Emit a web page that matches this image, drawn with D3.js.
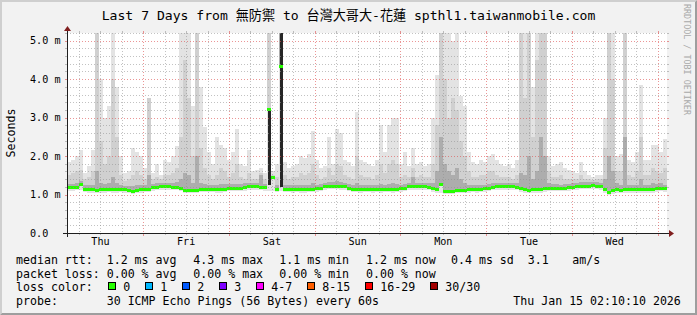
<!DOCTYPE html>
<html>
<head>
<meta charset="utf-8">
<script src="https://cdnjs.cloudflare.com/ajax/libs/d3/7.8.5/d3.min.js"></script>
<style>
html,body{margin:0;padding:0;background:#f2f2f2;}
svg{display:block;}
text{font-family:"DejaVu Sans Mono","Noto Sans CJK TC",monospace;white-space:pre;}
</style>
</head>
<body>
<svg id="chart" width="697" height="315"></svg>
<script>
try{

/*========================================
	Data
========================================*/
var chartTitle = "Last 7 Days from 無防禦 to 台灣大哥大-花蓮 spthl1.taiwanmobile.com";
var axisUnit = "Seconds";
var watermark = "RRDTOOL / TOBI OETIKER";

var startTime = Date.UTC(2026, 0, 8, 2, 38);
var endTime = Date.UTC(2026, 0, 15, 2, 38);

var yTicks = [0, 1, 2, 3, 4, 5];
var yTickLabels = ["0.0", "1.0 m", "2.0 m", "3.0 m", "4.0 m", "5.0 m"];

// one value per ~67 min bin, in ms
var medianRtt = [
 1.18,1.18,1.19,1.25,1.14,1.12,1.12,1.11,1.12,1.12,
 1.13,1.12,1.12,1.13,1.12,1.11,1.09,1.11,1.12,1.13,
 1.14,1.18,1.19,1.20,1.20,1.20,1.19,1.19,1.16,1.10,
 1.10,1.11,1.10,1.13,1.14,1.14,1.13,1.12,1.12,1.14,
 1.16,1.16,1.17,1.16,1.18,1.20,1.21,1.20,1.19,1.18,
 3.20,1.45,1.14,4.33,1.14,1.14,1.13,1.14,1.13,1.12,
 1.13,1.14,1.15,1.16,1.20,1.22,1.22,1.22,1.21,1.20,
 1.17,1.13,1.14,1.13,1.14,1.14,1.13,1.14,1.13,1.14,
 1.14,1.13,1.14,1.15,1.17,1.20,1.20,1.21,1.20,1.20,
 1.19,1.15,1.12,1.25,1.09,1.08,1.09,1.10,1.10,1.11,
 1.13,1.14,1.13,1.14,1.15,1.17,1.19,1.20,1.20,1.21,
 1.20,1.20,1.19,1.15,1.12,1.11,1.12,1.12,1.13,1.15,
 1.16,1.17,1.17,1.16,1.17,1.18,1.19,1.21,1.22,1.22,
 1.22,1.23,1.22,1.20,1.12,1.06,1.10,1.12,1.11,1.12,
 1.12,1.13,1.12,1.13,1.13,1.12,1.13,1.15,1.16,1.15];

var minRtt = [
 1.10,1.10,1.11,1.13,1.06,1.05,1.05,1.04,1.05,1.05,
 1.06,1.05,1.05,1.06,1.05,1.04,1.02,1.04,1.05,1.06,
 1.07,1.10,1.11,1.12,1.12,1.12,1.11,1.11,1.08,1.03,
 1.03,1.04,1.03,1.06,1.07,1.07,1.06,1.05,1.05,1.07,
 1.08,1.08,1.09,1.08,1.10,1.12,1.13,1.12,1.11,1.10,
 1.10,1.08,1.06,1.10,1.06,1.06,1.05,1.06,1.05,1.05,
 1.06,1.06,1.07,1.08,1.12,1.14,1.14,1.14,1.13,1.12,
 1.09,1.06,1.06,1.05,1.06,1.06,1.05,1.06,1.05,1.06,
 1.06,1.05,1.06,1.07,1.09,1.12,1.12,1.13,1.12,1.12,
 1.11,1.07,1.04,1.05,1.02,1.01,1.02,1.03,1.03,1.04,
 1.05,1.06,1.05,1.06,1.07,1.09,1.11,1.12,1.12,1.13,
 1.12,1.12,1.11,1.07,1.04,1.03,1.04,1.04,1.05,1.07,
 1.08,1.09,1.09,1.08,1.09,1.10,1.11,1.13,1.14,1.14,
 1.14,1.15,1.14,1.12,1.04,0.99,1.02,1.04,1.03,1.04,
 1.04,1.05,1.04,1.05,1.05,1.04,1.05,1.07,1.08,1.07];

var p75Rtt = [
 1.28,1.28,1.30,1.35,1.25,1.24,1.26,1.60,1.30,1.28,
 1.30,1.45,1.30,1.26,1.23,1.22,1.22,1.25,1.25,1.24,
 1.50,1.28,1.30,1.30,1.31,1.30,1.30,1.32,1.40,1.55,
 1.50,1.30,2.00,1.30,1.27,1.25,1.24,1.24,1.28,1.27,
 1.27,1.27,1.28,1.27,1.29,1.30,1.31,1.30,1.50,1.28,
 3.20,1.40,1.25,5.20,1.26,1.25,1.24,1.25,1.26,1.25,
 1.25,1.30,1.26,1.27,1.30,1.32,1.32,1.35,1.32,1.30,
 1.28,1.25,1.30,1.25,1.25,1.25,1.24,1.25,1.28,1.25,
 1.28,1.30,1.28,1.25,1.27,1.30,1.45,1.31,1.30,1.30,
 1.29,1.30,1.60,2.50,1.80,1.60,1.50,1.70,1.40,1.30,
 1.25,1.25,1.24,1.25,1.26,1.28,1.30,1.30,1.30,1.31,
 1.30,1.30,1.29,1.55,1.50,2.00,1.40,1.60,2.50,2.00,
 1.30,1.27,1.27,1.26,1.27,1.28,1.29,1.31,1.32,1.32,
 1.32,1.33,1.32,1.30,1.40,2.00,1.60,1.30,1.25,2.50,
 1.25,1.26,1.25,1.40,1.25,1.25,1.30,1.28,1.30,1.26];

var p90Rtt = [
 1.50,1.55,1.60,1.65,1.40,1.45,1.60,5.20,2.40,1.80,
 2.00,4.00,2.50,1.50,1.35,1.40,1.50,1.60,1.50,1.40,
 3.50,1.40,1.45,1.40,1.50,1.50,1.55,1.70,2.50,4.50,
 3.50,2.00,5.20,2.20,1.70,1.50,1.40,1.50,1.70,1.60,
 1.45,1.55,1.80,1.45,1.40,1.55,1.40,1.40,1.55,1.40,
 5.20,1.50,1.45,5.20,1.50,1.40,1.45,1.45,1.55,1.50,
 1.55,1.80,1.50,1.40,1.45,1.70,1.50,1.80,1.75,1.50,
 1.45,1.40,2.00,1.50,1.45,1.45,1.40,1.50,1.80,1.55,
 1.80,1.90,1.80,1.45,1.50,1.45,1.70,1.45,1.50,1.45,
 1.45,1.80,2.80,5.20,4.00,3.00,3.50,3.20,2.40,2.00,
 1.60,1.45,1.45,1.50,1.50,1.60,1.60,1.50,1.45,1.45,
 1.45,1.40,1.50,5.20,3.50,5.20,2.50,4.50,5.20,5.20,
 1.60,1.45,1.45,1.50,1.40,1.40,1.40,1.40,1.50,1.40,
 1.40,1.38,1.40,1.40,2.20,5.20,4.00,1.60,1.60,5.20,
 1.50,1.45,1.60,2.50,1.50,1.50,1.70,1.60,1.55,1.70];

var maxRtt = [
 1.85,1.90,2.00,2.15,1.55,1.75,2.15,5.20,4.00,3.00,
 3.30,5.20,3.80,2.00,1.55,1.60,2.20,2.10,2.00,1.70,
 3.50,1.55,1.80,1.50,1.90,1.85,2.00,2.25,5.20,5.20,
 5.20,3.30,5.20,3.80,2.75,2.10,1.80,2.50,2.30,2.20,
 1.90,2.10,2.70,1.80,1.75,2.15,1.60,1.65,1.70,1.55,
 5.20,1.60,1.80,5.20,1.85,1.70,1.75,1.80,2.00,1.95,
 2.05,2.65,1.90,1.70,1.75,2.50,1.80,2.70,2.60,1.90,
 1.85,1.75,3.15,1.90,1.85,1.80,1.75,1.90,2.80,2.10,
 2.80,3.00,3.00,1.80,2.10,1.75,2.20,1.80,1.85,1.75,
 1.80,3.00,4.10,5.20,5.20,5.20,5.00,5.20,3.55,3.30,
 2.10,1.85,1.80,1.90,1.85,2.00,2.05,1.90,1.80,1.75,
 1.80,1.70,1.90,5.20,5.20,5.20,3.80,5.20,5.20,5.20,
 2.00,1.75,1.80,1.85,1.70,1.65,1.60,1.55,1.85,1.60,
 1.50,1.45,1.50,1.50,3.00,5.20,5.20,2.00,2.05,5.20,
 1.90,1.85,2.10,3.85,1.90,1.90,2.30,2.30,2.10,2.45];

// bins where nearly all pings were slow
var denseIdx = [50, 53];
var denseLow = [1.25, 1.20];
var denseTop = [3.20, 5.20];

var statNames = ["avg", "max", "min", "now", "sd"];
var rttStats = [1.2, 4.3, 1.1, 1.2, 0.4];
var lossStats = [0.00, 0.00, 0.00, 0.00];
var amPerSec = 3.1;

var lossNames = ["0", "1", "2", "3", "4-7", "8-15", "16-29", "30/30"];
var lossColors = ["#26ff00", "#00b8ff", "#0059ff", "#7e00ff", "#ff00ff", "#ff5e00", "#ff0000", "#a10000"];

var probeText = "30 ICMP Echo Pings (56 Bytes) every 60s";
var stampText = "Thu Jan 15 02:10:10 2026";

/*========================================
	Layout
========================================*/
var W = 697, H = 315;
var plot = {left:67, top:33, width:600, height:200};
var bottom = plot.top + plot.height;
var right = plot.left + plot.width;

var svg = d3.select("#chart");

var x = d3.scaleUtc().domain([startTime, endTime]).range([plot.left, right]);
var y = d3.scaleLinear().domain([0, 5.2]).range([bottom, plot.top]);
var binMs = (endTime - startTime) / medianRtt.length;

var binX = function(i){ return x(new Date(startTime + i * binMs)); };
var clampY = function(v){ return y(Math.min(v, 5.2)); };

/*========================================
	Frame
========================================*/
svg.append("rect").attr("width", W).attr("height", H).attr("fill", "#f2f2f2");
svg.append("polygon")
	.attr("points", [[0,H],[2,H-2],[2,2],[W-2,2],[W,0],[0,0]].join(" "))
	.attr("fill", "#cfcfcf");
svg.append("polygon")
	.attr("points", [[W,0],[W-2,2],[W-2,H-2],[2,H-2],[0,H],[W,H]].join(" "))
	.attr("fill", "#9e9e9e");

svg.append("rect")
	.attr("x", plot.left).attr("y", plot.top)
	.attr("width", plot.width).attr("height", plot.height)
	.attr("fill", "#ffffff");

svg.append("clipPath").attr("id", "plotclip")
	.append("rect")
	.attr("x", plot.left).attr("y", plot.top)
	.attr("width", plot.width).attr("height", plot.height);

var g = svg.append("g").attr("clip-path", "url(#plotclip)").attr("shape-rendering", "crispEdges");

/*========================================
	Smoke
========================================*/
var drawLayer = function(lower, upper, color){
	g.append("g").selectAll("rect")
		.data(d3.range(medianRtt.length))
		.enter().append("rect")
		.attr("x", function(i){ return binX(i); })
		.attr("width", function(i){ return binX(i + 1) - binX(i); })
		.attr("y", function(i){ return clampY(upper[i]); })
		.attr("height", function(i){ return Math.max(0, clampY(lower[i]) - clampY(upper[i])); })
		.attr("fill", color);
};

drawLayer(minRtt, maxRtt, "#e3e3e3");
drawLayer(medianRtt, p90Rtt, "#d0d0d0");
drawLayer(medianRtt, p75Rtt, "#adadad");

g.append("g").selectAll("rect")
	.data(denseIdx)
	.enter().append("rect")
	.attr("x", function(d){ return binX(d) + 1; })
	.attr("width", function(d){ return binX(d + 1) - binX(d) - 1; })
	.attr("y", function(d, k){ return clampY(denseTop[k]); })
	.attr("height", function(d, k){ return clampY(denseLow[k]) - clampY(denseTop[k]); })
	.attr("fill", "#262626");

// median, coloured by packet loss
g.append("g").selectAll("rect")
	.data(medianRtt)
	.enter().append("rect")
	.attr("x", function(d, i){ return binX(i); })
	.attr("width", function(d, i){ return binX(i + 1) - binX(i); })
	.attr("y", function(d){ return y(d) - 1.5; })
	.attr("height", 3)
	.attr("fill", lossColors[d3.max(lossStats) > 0 ? 1 : 0]);

/*========================================
	Grid
========================================*/
var gridCol = "rgba(143,143,143,0.55)";
var mgridCol = "rgba(222,79,79,0.6)";
var grid = svg.append("g").attr("shape-rendering", "crispEdges");

var minorY = d3.range(0, 5.21, 0.2).filter(function(v){ return Math.abs(v - Math.round(v)) > 0.01; });
minorY.forEach(function(v){
	var yy = Math.round(y(v)) + 0.5;
	grid.append("line").attr("x1", plot.left).attr("x2", right).attr("y1", yy).attr("y2", yy)
		.attr("stroke", gridCol).attr("stroke-dasharray", "1,2");
	grid.append("line").attr("x1", plot.left - 2).attr("x2", plot.left).attr("y1", yy).attr("y2", yy).attr("stroke", gridCol);
	grid.append("line").attr("x1", right).attr("x2", right + 2).attr("y1", yy).attr("y2", yy).attr("stroke", gridCol);
});
yTicks.forEach(function(v){
	var yy = Math.round(y(v)) + 0.5;
	if(v > 0){
		grid.append("line").attr("x1", plot.left).attr("x2", right).attr("y1", yy).attr("y2", yy)
			.attr("stroke", mgridCol).attr("stroke-dasharray", "1,2");
	}
	grid.append("line").attr("x1", plot.left - 2).attr("x2", plot.left).attr("y1", yy).attr("y2", yy).attr("stroke", mgridCol);
	grid.append("line").attr("x1", right).attr("x2", right + 2).attr("y1", yy).attr("y2", yy).attr("stroke", mgridCol);
});

var minorX = d3.utcHour.every(6).range(new Date(startTime), new Date(endTime))
	.filter(function(t){ return t.getUTCHours() !== 0; });
var majorX = d3.utcDay.range(new Date(startTime), new Date(endTime));

minorX.forEach(function(t){
	var xx = Math.round(x(t)) + 0.5;
	grid.append("line").attr("x1", xx).attr("x2", xx).attr("y1", plot.top).attr("y2", bottom)
		.attr("stroke", gridCol).attr("stroke-dasharray", "1,2");
	grid.append("line").attr("x1", xx).attr("x2", xx).attr("y1", plot.top - 2).attr("y2", plot.top).attr("stroke", gridCol);
	grid.append("line").attr("x1", xx).attr("x2", xx).attr("y1", bottom).attr("y2", bottom + 2).attr("stroke", gridCol);
});
majorX.forEach(function(t){
	var xx = Math.round(x(t)) + 0.5;
	grid.append("line").attr("x1", xx).attr("x2", xx).attr("y1", plot.top).attr("y2", bottom)
		.attr("stroke", mgridCol).attr("stroke-dasharray", "1,2");
	grid.append("line").attr("x1", xx).attr("x2", xx).attr("y1", plot.top - 2).attr("y2", plot.top).attr("stroke", mgridCol);
	grid.append("line").attr("x1", xx).attr("x2", xx).attr("y1", bottom).attr("y2", bottom + 3).attr("stroke", mgridCol);
});

/*========================================
	Axes
========================================*/
var axisG = svg.append("g").attr("shape-rendering", "crispEdges");
axisG.append("line").attr("x1", plot.left - 4).attr("x2", right + 4)
	.attr("y1", bottom + 0.5).attr("y2", bottom + 0.5).attr("stroke", "#1f1f1f");
axisG.append("line").attr("x1", plot.left + 0.5).attr("x2", plot.left + 0.5)
	.attr("y1", bottom + 4).attr("y2", plot.top - 4).attr("stroke", "#1f1f1f");

svg.append("polygon")
	.attr("points", [[right + 2, bottom - 3],[right + 2, bottom + 4],[right + 7, bottom + 0.5]].join(" "))
	.attr("fill", "#801f1f");
svg.append("polygon")
	.attr("points", [[plot.left - 3, plot.top - 2],[plot.left + 4, plot.top - 2],[plot.left + 0.5, plot.top - 7]].join(" "))
	.attr("fill", "#801f1f");

// y labels
svg.append("g").selectAll("text")
	.data(yTicks)
	.enter().append("text")
	.attr("x", 30)
	.attr("y", function(d){ return y(d) + 3.7; })
	.attr("font-size", "10.15px")
	.attr("fill", "#000")
	.text(function(d, i){ return yTickLabels[i]; });

// day labels at noon
var noonTicks = d3.utcDay.range(new Date(startTime - 864e5), new Date(endTime))
	.map(function(t){ return new Date(t.getTime() + 432e5); })
	.filter(function(t){ return t > startTime && t < endTime; });
var dayFmt = d3.utcFormat("%a");
svg.append("g").selectAll("text")
	.data(noonTicks)
	.enter().append("text")
	.attr("x", function(d){ return x(d); })
	.attr("y", 245)
	.attr("text-anchor", "middle")
	.attr("font-size", "10.15px")
	.text(function(d){ return dayFmt(d); });

svg.append("text")
	.attr("transform", "translate(15," + (plot.top + plot.height / 2) + ") rotate(-90)")
	.attr("text-anchor", "middle")
	.attr("font-size", "11.6px")
	.text(axisUnit);

/*========================================
	Title and watermark
========================================*/
svg.append("text")
	.attr("x", W / 2).attr("y", 19.5)
	.attr("text-anchor", "middle")
	.attr("font-size", "13.1px")
	.text(chartTitle);

svg.append("text")
	.attr("transform", "translate(684,4) rotate(90)")
	.attr("font-size", "8.4px")
	.attr("fill", "#a9a9a9")
	.text(watermark);

/*========================================
	Legend
========================================*/
var legend = svg.append("g").attr("font-size", "11.6px").attr("fill", "#000");
var rowY = [263.8, 277.5, 291.2, 305];
var colX = [106.7, 193.3, 279.3, 366, 451];

legend.append("text").attr("x", 16).attr("y", rowY[0]).text("median rtt:");
rttStats.forEach(function(v, i){
	legend.append("text").attr("x", colX[i]).attr("y", rowY[0])
		.text(v.toFixed(1) + " ms " + statNames[i]);
});
legend.append("text").attr("x", 527.7).attr("y", rowY[0]).text(amPerSec.toFixed(1));
legend.append("text").attr("x", 572.3).attr("y", rowY[0]).text("am/s");

legend.append("text").attr("x", 16).attr("y", rowY[1]).text("packet loss:");
lossStats.forEach(function(v, i){
	legend.append("text").attr("x", colX[i]).attr("y", rowY[1])
		.text(v.toFixed(2) + " % " + statNames[i]);
});

legend.append("text").attr("x", 16).attr("y", rowY[2]).text("loss color:");
var boxX = [108, 145, 182, 219, 256, 307, 365, 430];
lossNames.forEach(function(name, i){
	legend.append("rect")
		.attr("x", boxX[i] + 0.5).attr("y", rowY[2] - 8.5)
		.attr("width", 7).attr("height", 7)
		.attr("fill", lossColors[i])
		.attr("stroke", "#000")
		.attr("shape-rendering", "crispEdges");
	legend.append("text").attr("x", boxX[i] + 15.3).attr("y", rowY[2]).text(name);
});

legend.append("text").attr("x", 16).attr("y", rowY[3]).text("probe:");
legend.append("text").attr("x", 106.7).attr("y", rowY[3]).text(probeText);
legend.append("text").attr("x", 513.3).attr("y", rowY[3]).text(stampText);

} catch (e) {
	console.log(e);
}
</script>
</body>
</html>
